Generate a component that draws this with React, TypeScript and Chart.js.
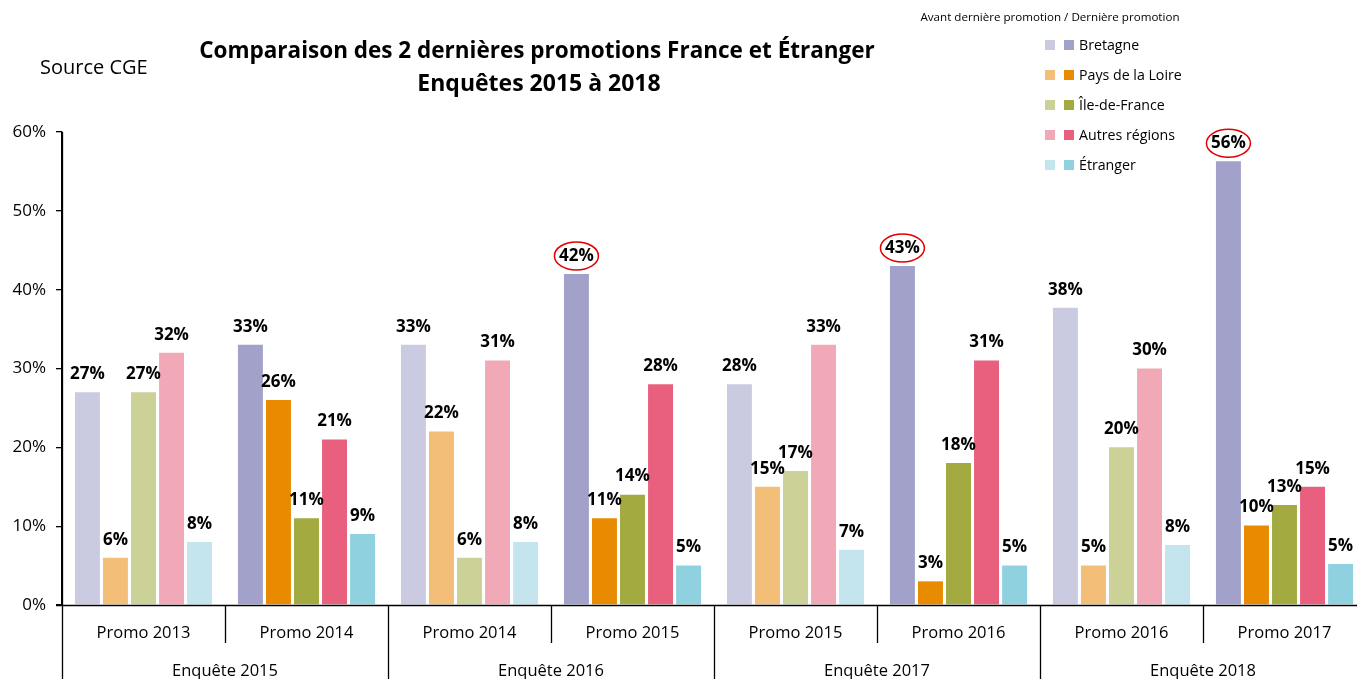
import React, { useEffect, useRef } from "react";
import { Chart, registerables } from "chart.js";

Chart.register(...registerables);

const promoLabels = ["Promo 2013", "Promo 2014", "Promo 2014", "Promo 2015", "Promo 2015", "Promo 2016", "Promo 2016", "Promo 2017"];
const enqueteLabels = ["Enquête 2015", "Enquête 2016", "Enquête 2017", "Enquête 2018"];
const regions = ["Bretagne", "Pays de la Loire", "Île-de-France", "Autres régions", "Étranger"];

const bretagne = [27, 33, 33, 42, 28, 43, 37.7, 56.3];
const paysDeLaLoire = [6, 26, 22, 11, 15, 3, 5, 10.1];
const ileDeFrance = [27, 11, 6, 14, 17, 18, 20, 12.7];
const autresRegions = [32, 21, 31, 28, 33, 31, 30, 15];
const etranger = [8, 9, 8, 5, 7, 5, 7.6, 5.2];

const lightColors = ["#CACBE1", "#F3BF78", "#CCD197", "#F1A9B8", "#C4E5ED"];
const darkColors = ["#A1A1C9", "#E98B00", "#A2AA40", "#E8607D", "#90D1DF"];

const circled = [3, 5, 7];
const yTicks = [0, 10, 20, 30, 40, 50, 60];

const FONT = '"Open Sans", "Noto Sans", sans-serif';

const overlay = {
  id: "overlay",
  afterDatasetsDraw(chart: any) {
    const ctx = chart.ctx;
    const { left, top, bottom } = chart.chartArea;
    const W = chart.width;
    const H = chart.height;
    const xs = chart.scales.x;
    ctx.save();

    // value labels
    ctx.textAlign = "center";
    ctx.textBaseline = "middle";
    ctx.fillStyle = "#000";
    ctx.font = `bold 17px ${FONT}`;
    chart.data.datasets.forEach((ds: any, di: number) => {
      const meta = chart.getDatasetMeta(di);
      meta.data.forEach((bar: any, i: number) => {
        const txt = Math.round(ds.data[i]) + "%";
        const y = bar.y - 18;
        ctx.fillStyle = "#000";
        ctx.fillText(txt, bar.x, y);
        if (di === 0 && circled.includes(i)) {
          ctx.beginPath();
          ctx.strokeStyle = "#E00000";
          ctx.lineWidth = 1.5;
          ctx.ellipse(bar.x, y, 22, 14, 0, 0, Math.PI * 2);
          ctx.stroke();
        }
      });
    });

    // axes
    ctx.strokeStyle = "#000";
    ctx.lineWidth = 1.3;
    ctx.beginPath();
    ctx.moveTo(left - 6, bottom + 0.5);
    ctx.lineTo(W, bottom + 0.5);
    ctx.moveTo(left + 0.5, top);
    ctx.lineTo(left + 0.5, H);
    for (let i = 0; i < promoLabels.length - 1; i++) {
      const bx = Math.round((xs.getPixelForValue(i) + xs.getPixelForValue(i + 1)) / 2) + 0.5;
      ctx.moveTo(bx, bottom);
      ctx.lineTo(bx, i % 2 === 1 ? H : bottom + 38);
    }
    ctx.stroke();

    ctx.fillStyle = "#000";
    ctx.font = `16.5px ${FONT}`;
    ctx.textAlign = "center";
    ctx.textBaseline = "middle";
    promoLabels.forEach((p, i) => {
      ctx.fillText(p, xs.getPixelForValue(i), bottom + 28);
    });
    enqueteLabels.forEach((e, k) => {
      const cx = (xs.getPixelForValue(2 * k) + xs.getPixelForValue(2 * k + 1)) / 2;
      ctx.fillText(e, cx, bottom + 66);
    });

    // Source
    ctx.textAlign = "left";
    ctx.font = `20px ${FONT}`;
    ctx.fillText("Source CGE", 40, 68);

    // title
    ctx.textAlign = "center";
    ctx.font = `bold 22.5px ${FONT}`;
    ctx.fillText("Comparaison des 2 dernières promotions France et Étranger", 537, 52);
    ctx.font = `bold 23px ${FONT}`;
    ctx.fillText("Enquêtes 2015 à 2018", 539, 84);

    // legend
    ctx.font = `11.6px ${FONT}`;
    ctx.fillText("Avant dernière promotion / Dernière promotion", 1050, 18);
    ctx.textAlign = "left";
    ctx.font = `14.2px ${FONT}`;
    regions.forEach((r, i) => {
      const y = 45 + i * 30;
      ctx.fillStyle = lightColors[i];
      ctx.fillRect(1045, y - 5, 10, 10);
      ctx.fillStyle = darkColors[i];
      ctx.fillRect(1064, y - 5, 10, 10);
      ctx.fillStyle = "#000";
      ctx.fillText(r, 1079, y + 1);
    });

    ctx.restore();
  },
};

export default function App() {
  const ref = useRef<HTMLCanvasElement | null>(null);
  useEffect(() => {
    if (!ref.current) return;
    const series = [bretagne, paysDeLaLoire, ileDeFrance, autresRegions, etranger];
    const chart = new Chart(ref.current, {
      type: "bar",
      data: {
        labels: promoLabels,
        datasets: series.map((d, si) => ({
          label: regions[si],
          data: d,
          backgroundColor: d.map((_, i) => (i % 2 === 0 ? lightColors[si] : darkColors[si])),
          borderWidth: 0,
          categoryPercentage: 0.86,
          barPercentage: 0.89,
        })),
      },
      options: {
        responsive: false,
        animation: false,
        devicePixelRatio: 1,
        layout: { padding: { left: 0, top: 132, right: 34, bottom: 95 } },
        plugins: { legend: { display: false }, tooltip: { enabled: false }, title: { display: false } },
        scales: {
          x: { display: false },
          y: {
            min: 0,
            max: 60,
            afterFit: (s: any) => {
              s.width = 62;
            },
            afterBuildTicks: (s: any) => {
              s.ticks = yTicks.map((v) => ({ value: v }));
            },
            ticks: {
              color: "#000",
              font: { family: FONT, size: 17 },
              padding: 10,
              callback: (v: any) => v + "%",
            },
            grid: { drawOnChartArea: false, drawTicks: true, tickLength: 6, color: "#000", lineWidth: 1.3 },
            border: { display: true, color: "#000", width: 1.3 },
          },
        },
      },
      plugins: [overlay],
    });
    return () => chart.destroy();
  }, []);
  return (
    <div style={{ position: "fixed", left: 0, top: 0, width: "100vw", height: "100vh", overflow: "hidden", background: "#fff" }}>
      <canvas ref={ref} width={1400} height={700} style={{ display: "block" }} />
    </div>
  );
}
